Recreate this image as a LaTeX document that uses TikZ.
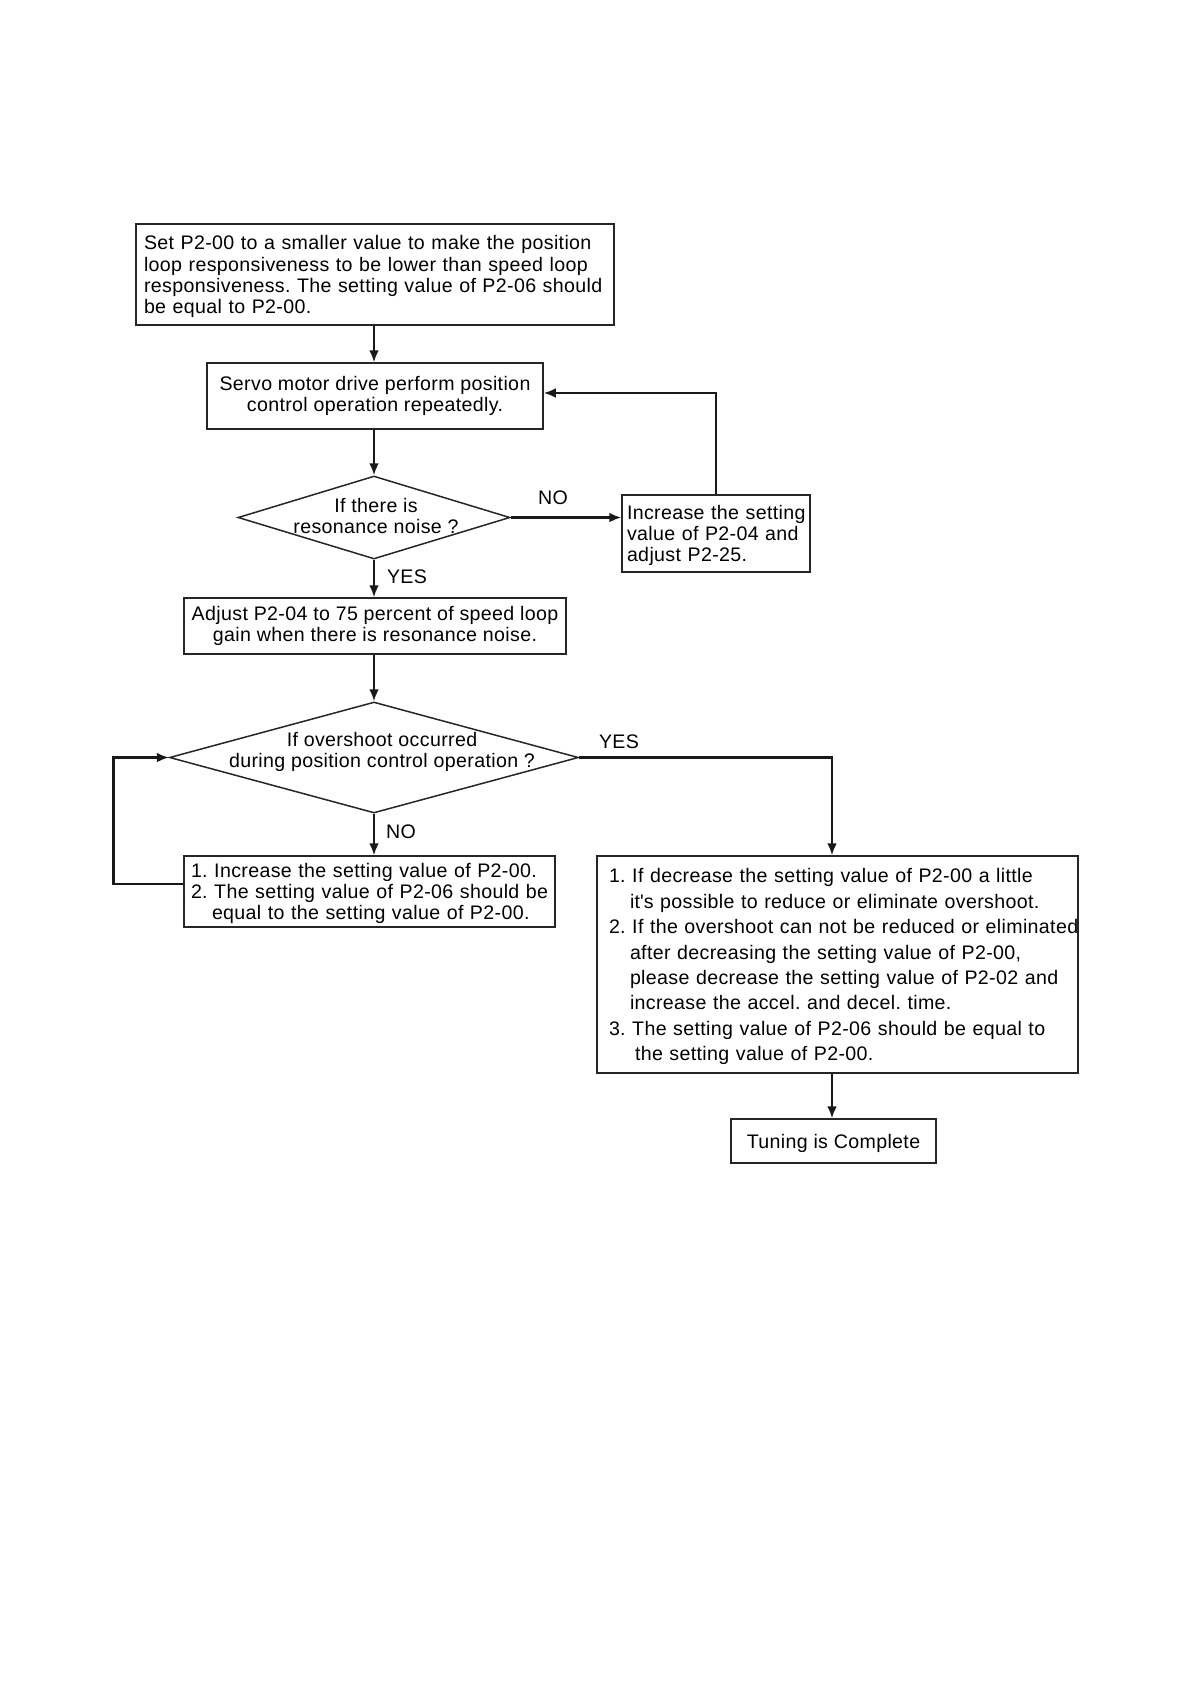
\documentclass[tikz,border=0pt]{standalone}
\usepackage{fontspec}
\setmainfont{Liberation Sans}[LetterSpace=1.8]
\usetikzlibrary{arrows.meta,shapes.geometric}
\frenchspacing
\begin{document}
\frenchspacing
\begin{tikzpicture}[x=1pt,y=-1pt,
  box/.style={draw=black!85, line width=1.5pt, inner ysep=0pt, fill=white,
              execute at begin node={\frenchspacing\rule{0pt}{18.5pt}}},
  lbox/.style={box, align=left},
  cbox/.style={box, align=center},
  dia/.style={diamond, draw=black!85, line width=1.5pt, inner sep=0pt},
  txt/.style={inner sep=0pt, align=center},
  lab/.style={inner sep=0pt},
  arr/.style={draw=black!90, line width=2.8pt, -{Latex[length=12pt,width=10pt]}},
  font=\fontsize{19.6}{21.2}\selectfont]
\useasboundingbox (0,0) rectangle (1190,1684);
\coordinate (ax) at (374,0);
\coordinate (c5) at (832,0);

\node[lbox, minimum width=478pt, minimum height=101pt, text width=462pt, inner xsep=8pt] (b1) at (375,274.5)
 {\mbox{Set P2-00 to a smaller value to make the position}\\
  \mbox{loop responsiveness to be lower than speed loop}\\
  \mbox{responsiveness. The setting value of P2-06 should}\\
  \mbox{be equal to P2-00.}};

\node[cbox, minimum width=336pt, minimum height=66pt] (b2) at (375,396)
 {Servo motor drive perform position\\control operation repeatedly.};

\node[dia, minimum width=272pt, minimum height=83pt] (d1) at (374,517.5) {};
\node[txt] (t1) at (376,516) {If there is\\resonance noise ?};

\node[lbox, minimum width=188pt, minimum height=77pt, text width=178pt, inner xsep=5pt] (inc) at (716,533.5)
 {\mbox{Increase the setting}\\\mbox{value of P2-04 and}\\\mbox{adjust P2-25.}};

\node[cbox, minimum width=382pt, minimum height=56pt] (b3) at (375,626)
 {Adjust P2-04 to 75 percent of speed loop\\gain when there is resonance noise.};

\node[dia, minimum width=409pt, minimum height=111pt] (d2) at (374,757.5) {};
\node[txt] (t2) at (382,752) {If overshoot occurred\\during position control operation ?};

\node[lbox, minimum width=371pt, minimum height=71pt, text width=357pt, inner xsep=7pt] (b4) at (369.5,891.5)
 {\mbox{1. Increase the setting value of P2-00.}\\
  \mbox{2. The setting value of P2-06 should be}\\
  \mbox{\hspace*{21pt}equal to the setting value of P2-00.}};

\node[lbox, minimum width=481pt, minimum height=217pt, text width=457pt, inner xsep=12pt,
      font=\fontsize{19.6}{25.4}\selectfont] (b5) at (837.5,964.5)
 {\mbox{1. If decrease the setting value of P2-00 a little}\\
  \mbox{\hspace*{21pt}it\textquotesingle s possible to reduce or eliminate overshoot.}\\
  \mbox{2. If the overshoot can not be reduced or eliminated}\\
  \mbox{\hspace*{21pt}after decreasing the setting value of P2-00,}\\
  \mbox{\hspace*{21pt}please decrease the setting value of P2-02 and}\\
  \mbox{\hspace*{21pt}increase the accel. and decel. time.}\\
  \mbox{3. The setting value of P2-06 should be equal to}\\
  \mbox{\hspace*{26pt}the setting value of P2-00.}};

\node[cbox, minimum width=205pt, minimum height=44pt] (tun) at (833.5,1141) {Tuning is Complete};

\node[lab] (no1) at (553,498) {NO};
\node[lab] (yes1) at (407,577) {YES};
\node[lab] (yes2) at (619,742) {YES};
\node[lab] (no2) at (401,832) {NO};

\draw[arr] (b1.south -| ax) -- (b2.north -| ax);
\draw[arr] (b2.south -| ax) -- (d1.north);
\draw[arr] (d1.south) -- (b3.north -| d1.south);
\draw[arr] (d1.east) -- (d1.east -| inc.west);
\draw[arr] (inc.north) |- ([yshift=3pt]b2.east);
\draw[arr] (b3.south -| ax) -- (d2.north);
\draw[arr] (d2.south) -- (b4.north -| d2.south);
\draw[arr] (d2.east) -| (b5.north -| c5);
\draw[arr] ([yshift=7.5pt]b4.west) -- ++(-70,0) |- (d2.west);
\draw[arr] (b5.south -| c5) -- (tun.north -| c5);
\end{tikzpicture}
\end{document}
